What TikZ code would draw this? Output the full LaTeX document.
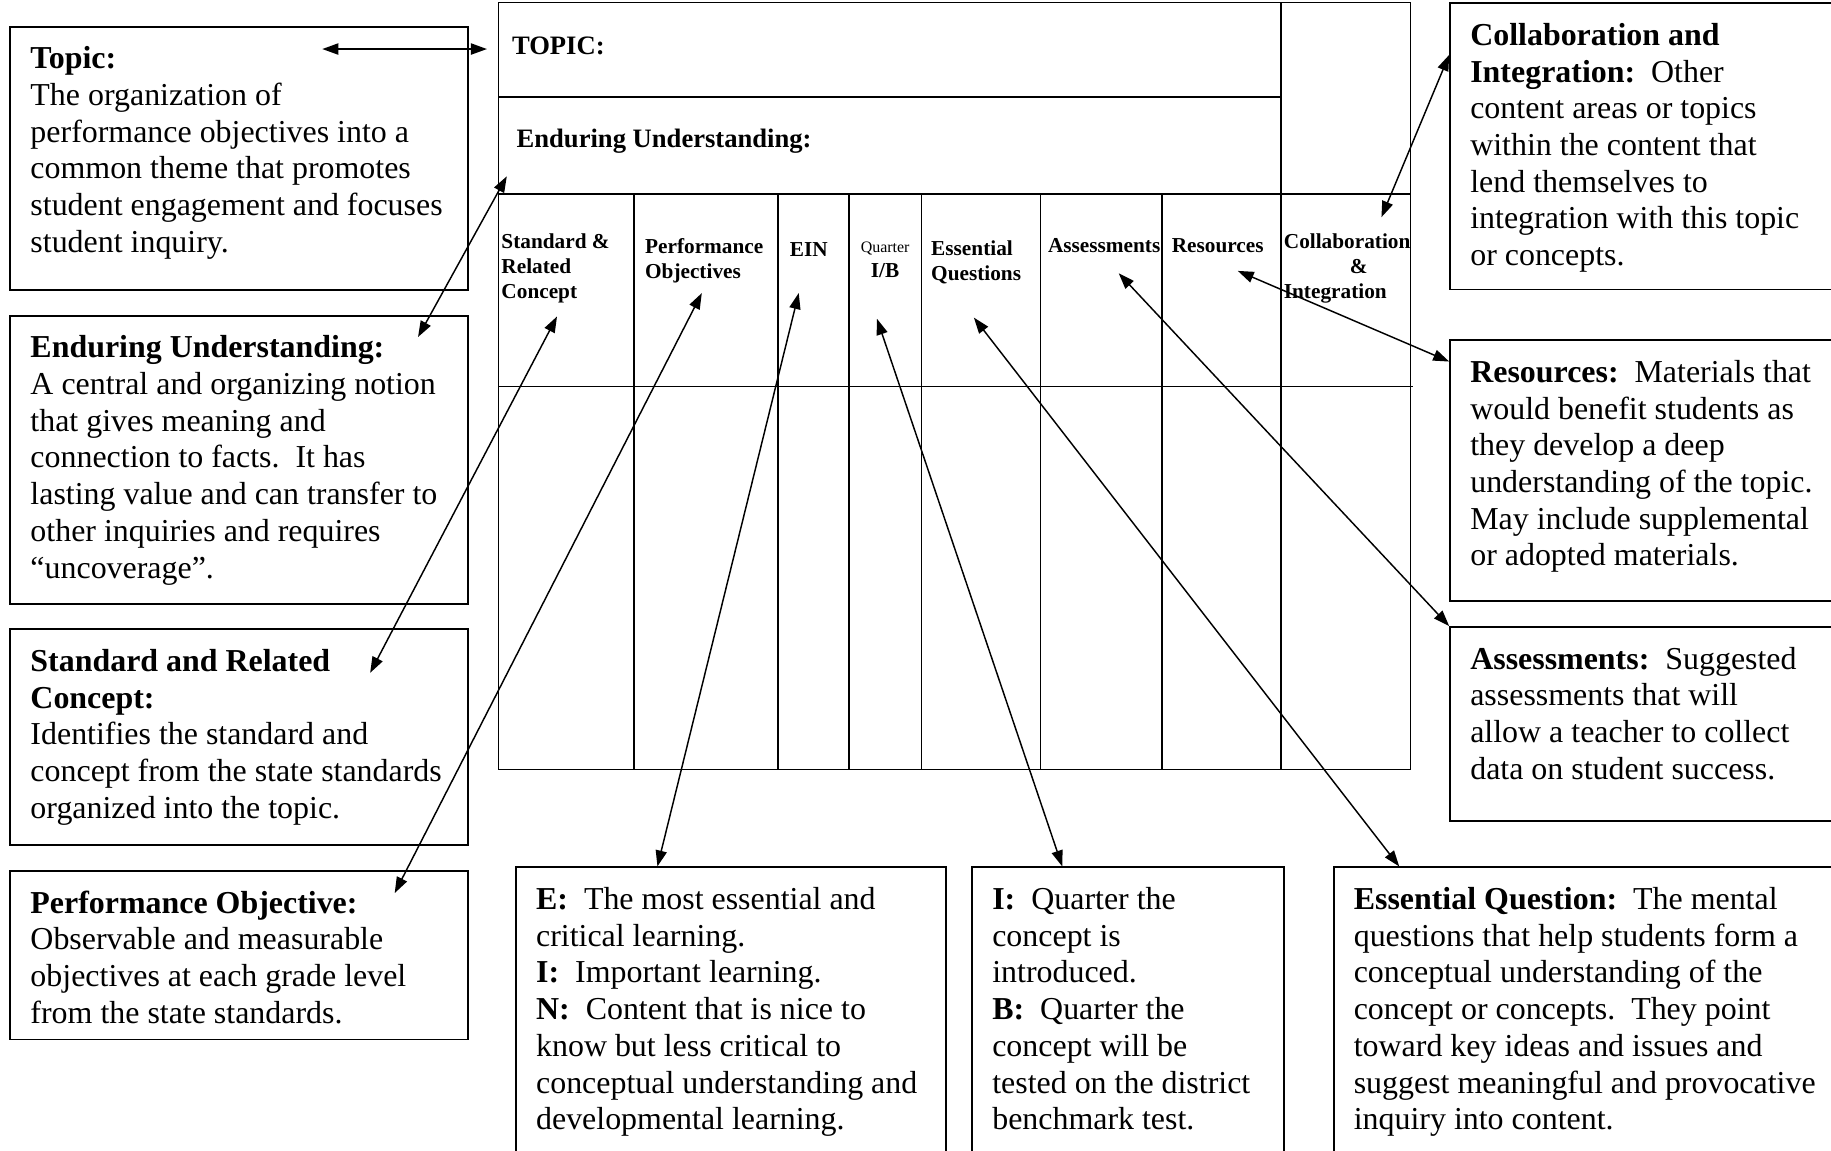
\documentclass[tikz,border=0pt]{standalone}
\usepackage{fontspec}
\setmainfont{Liberation Serif}
\usetikzlibrary{positioning, arrows.meta}

% top aligned text block of fixed size for the note boxes
\newcommand{\notetext}[3]{\parbox[t][#2][t]{#1}{\raggedright #3}}

\begin{document}
\begin{tikzpicture}[x=0.439pt, y=-0.439pt]
    \tikzset{note/.style={draw, line width=0.7pt, inner xsep=7.6pt, inner ysep=7.5pt, font=\fontsize{12}{13.8}\selectfont}}
    \tikzset{colhead/.style={anchor=north west, inner sep=0pt, align=left, font=\fontsize{8}{9.3}\selectfont\bfseries}}
    \tikzset{rowhead/.style={anchor=north west, inner sep=0pt, font=\fontsize{10}{12}\selectfont\bfseries}}
    \tikzset{tabline/.style={line width=0.6pt}}
    \tikzset{link/.style={<->, >={Triangle[length=6pt, width=4.2pt]}, line width=0.55pt}}

    \useasboundingbox (0,0) rectangle (1568,985);

    % the unit template
    \draw[tabline] (427,2) rectangle (1208,659);
    \draw[tabline, line width=0.8pt] (427,83) -- (1097,83);
    \draw[tabline] (427,166) -- (1208,166);
    \draw[tabline] (427,331) -- (1210,331);
    \draw[tabline] (1097,2) -- (1097,659);
    \foreach \x in {543,666,727,789,891,995}
        \draw[tabline] (\x,166) -- (\x,659);

    \node[rowhead] (topichead) at (438,31) {TOPIC:};
    \node[rowhead] (enduhead) at (442,110) {Enduring Understanding:};
    \node[colhead] (stdhead) at (429,200) {Standard \&\\Related\\Concept};
    \node[colhead] (perfhead) at (552,204) {Performance\\Objectives};
    \node[colhead] (einhead) at (676,207) {EIN};
    \node[colhead, anchor=north, align=center] (qtrhead) at (758,207) {{\fontsize{6}{7}\selectfont\mdseries Quarter}\\I/B};
    \node[colhead] (eqhead) at (797,206) {Essential\\Questions};
    \node[colhead] (asmhead) at (897,204) {Assessments};
    \node[colhead] (reshead) at (1003,204) {Resources};
    \node[colhead] (collabhead) at (1099,200) {Collaboration\\\hspace*{24.8pt}\&\\Integration};

    % left column
    \node[note, anchor=north west] (topicnote) at (8,22) {\notetext{156.9pt}{84pt}{\textbf{Topic:}\\The organization of\\performance objectives into a\\common theme that promotes\\student engagement and focuses\\student inquiry.}};
    \node[note, below=9pt of topicnote] (endnote) {\notetext{156.9pt}{93.2pt}{\textbf{Enduring Understanding:}\\A central and organizing notion\\that gives meaning and\\connection to facts.\ \ It has\\lasting value and can transfer to\\other inquiries and requires\\“uncoverage”.}};
    \node[note, below=9pt of endnote] (stdnote) {\notetext{156.9pt}{66pt}{\textbf{Standard and Related}\\\textbf{Concept:}\\Identifies the standard and\\concept from the state standards\\organized into the topic.}};
    \node[note, below=9pt of stdnote] (perfnote) {\notetext{156.9pt}{48.5pt}{\textbf{Performance Objective:}\\Observable and measurable\\objectives at each grade level\\from the state standards.}};

    % right column
    \node[note, anchor=north west] (colnote) at (1241,2) {\notetext{133.4pt}{92.6pt}{\textbf{Collaboration and}\\\textbf{Integration:}\ \ Other\\content areas or topics\\within the content that\\lend themselves to\\integration with this topic\\or concepts.}};
    \node[note, below=18.4pt of colnote] (resnote) {\notetext{133.4pt}{82.9pt}{\textbf{Resources:}\ \ Materials that\\would benefit students as\\they develop a deep\\understanding of the topic.\\May include supplemental\\or adopted materials.}};
    \node[note, below=9.2pt of resnote] (asmnote) {\notetext{133.4pt}{57.9pt}{\textbf{Assessments:}\ \ Suggested\\assessments that will\\allow a teacher to collect\\data on student success.}};

    % bottom row
    \node[note, anchor=north west] (einnote) at (441,742) {\notetext{146.4pt}{98.3pt}{\textbf{E:}\ \ The most essential and\\critical learning.\\\textbf{I:}\ \ Important learning.\\\textbf{N:}\ \ Content that is nice to\\know but less critical to\\conceptual understanding and\\developmental learning.}};
    \node[note, right=9.2pt of einnote] (qtrnote) {\notetext{102pt}{98.3pt}{\textbf{I:}\ \ Quarter the\\concept is\\introduced.\\\textbf{B:}\ \ Quarter the\\concept will be\\tested on the district\\benchmark test.}};
    \node[note, right=18pt of qtrnote] (eqnote) {\notetext{178.8pt}{98.3pt}{\textbf{Essential Question:}\ \ The mental\\questions that help students form a\\conceptual understanding of the\\concept or concepts.\ \ They point\\toward key ideas and issues and\\suggest meaningful and provocative\\inquiry into content.}};

    % arrow ends inside the template
    \coordinate (topicTip) at (417,42);
    \coordinate (enduTip) at (434,151);
    \coordinate (stdTip) at (477,271);
    \coordinate (perfTip) at (601,251);
    \coordinate (einTip) at (684,251);
    \coordinate (qtrTip) at (751,273);
    \coordinate (eqTip) at (834,272);
    \coordinate (asmTip) at (958,234);
    \coordinate (resTip) at (1060,232);
    \coordinate (colTip) at (1183,186);

    \draw[link] ([shift={(268,20)}]topicnote.north west) -- (topicTip);
    \draw[link] (enduTip) -- ([shift={(350,19)}]endnote.north west);
    \draw[link] (stdTip) -- ([shift={(309,38)}]stdnote.north west);
    \draw[link] (perfTip) -- ([shift={(330,20)}]perfnote.north west);
    \draw[link] (einTip) -- ([shift={(122,0)}]einnote.north west);
    \draw[link] (qtrTip) -- ([shift={(78,0)}]qtrnote.north west);
    \draw[link] (eqTip) -- ([shift={(57,0)}]eqnote.north west);
    \draw[link] (asmTip) -- (asmnote.north west);
    \draw[link] (resTip) -- ([shift={(0,19)}]resnote.north west);
    \draw[link] (colTip) -- ([shift={(0,45)}]colnote.north west);
\end{tikzpicture}
\end{document}
